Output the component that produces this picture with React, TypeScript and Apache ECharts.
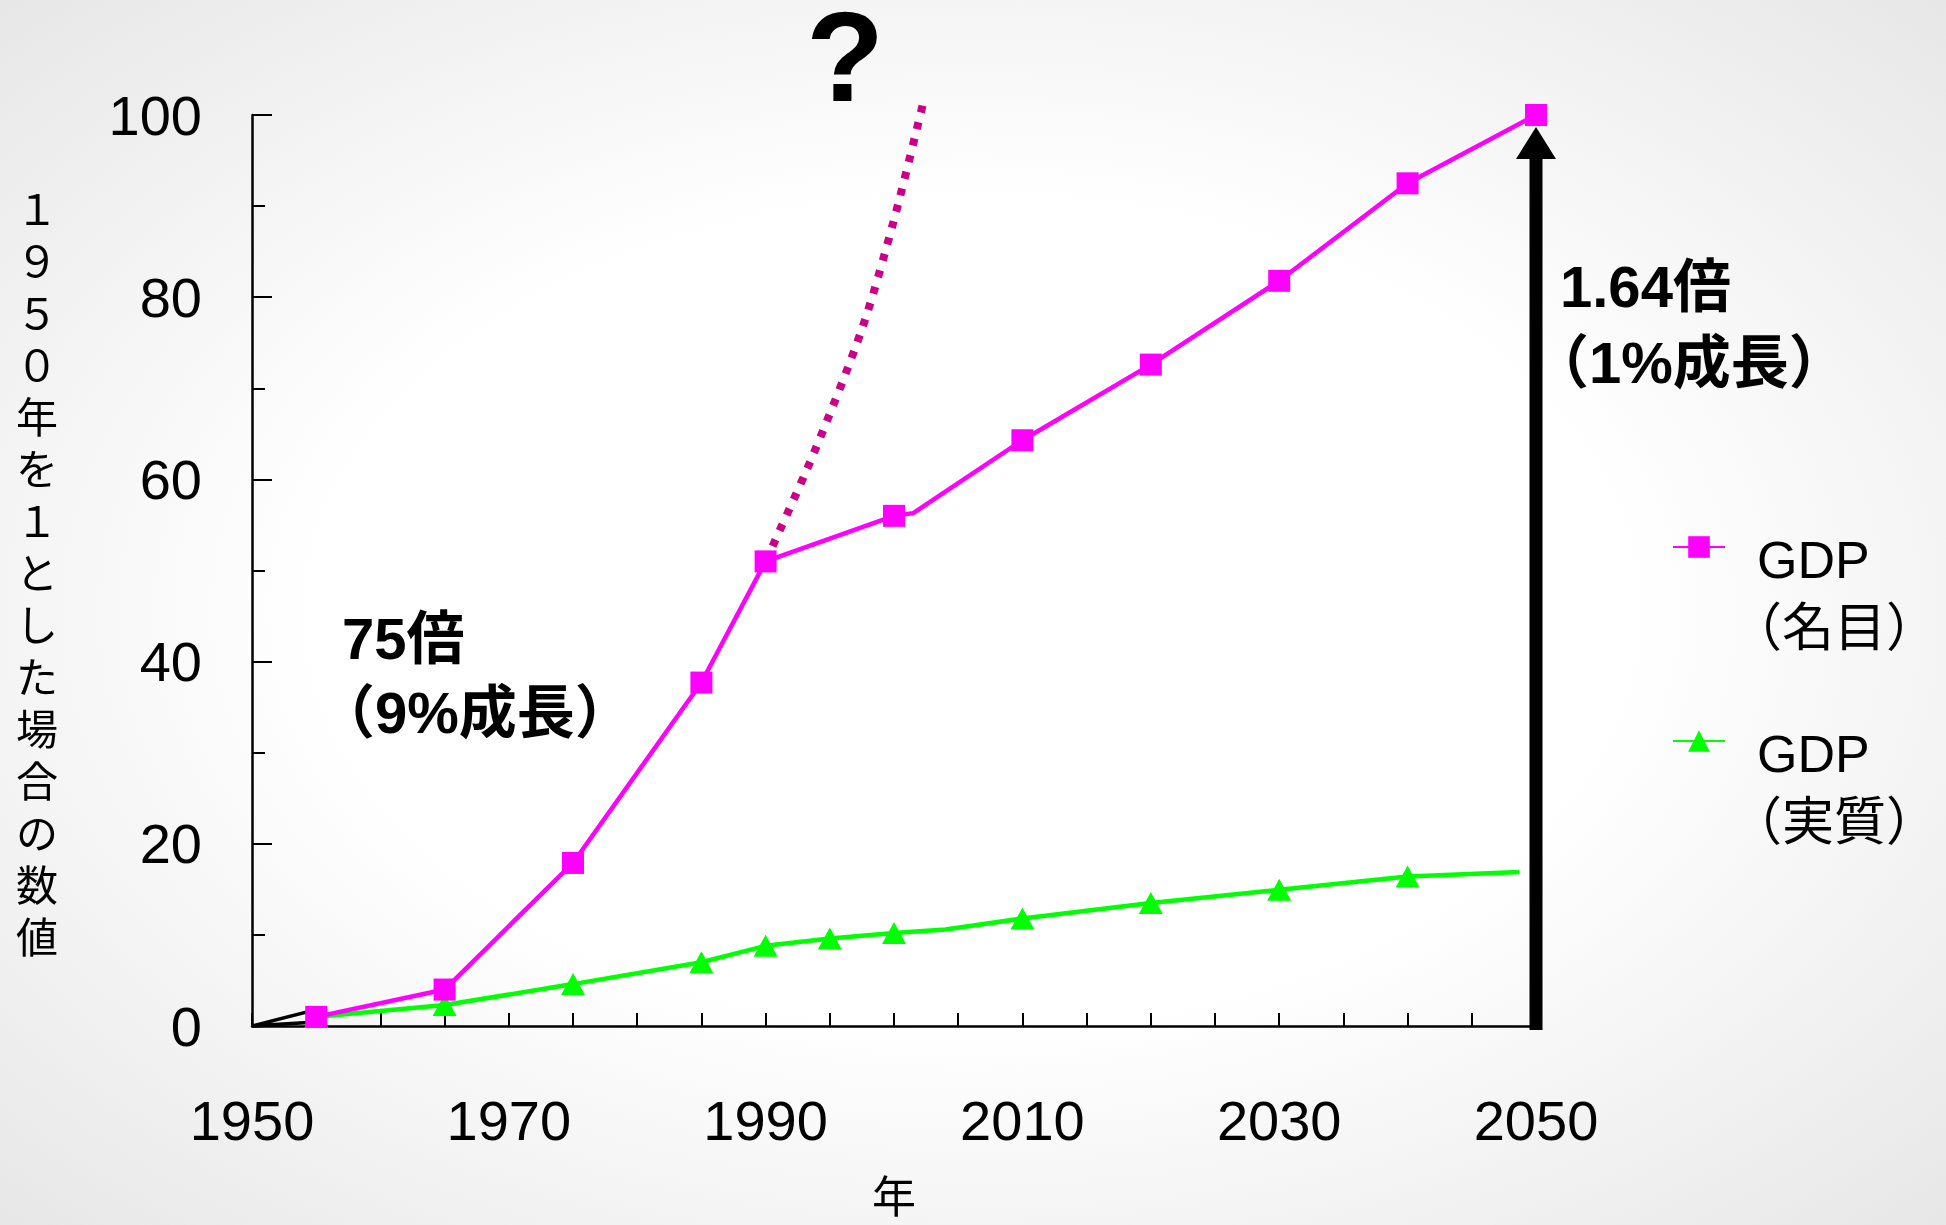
import React, { useEffect, useRef } from "react";
import * as echarts from "echarts";

// ---- data ----
const xMin = 1950;
const xMax = 2050;
const xTickStep = 5;
const xLabelStep = 20;
const yMin = 0;
const yMax = 100;
const yLabelStep = 20;

const nominalName = "GDP（名目）";
const nominalLegendLines = ["GDP", "（名目）"];
const nominalYears = [1955, 1965, 1975, 1985, 1990, 2000, 2001.5, 2010, 2020, 2030, 2040, 2050];
const nominalValues = [1.0, 4.0, 17.9, 37.7, 51.0, 56.0, 56.3, 64.3, 72.6, 81.8, 92.5, 100];
const nominalMarker = [1, 1, 1, 1, 1, 1, 0, 1, 1, 1, 1, 1];

const realName = "GDP（実質）";
const realLegendLines = ["GDP", "（実質）"];
const realYears = [1955, 1965, 1975, 1985, 1990, 1995, 2000, 2004, 2010, 2020, 2030, 2040, 2048.7];
const realValues = [1.0, 2.3, 4.6, 7.0, 8.8, 9.6, 10.2, 10.6, 11.8, 13.5, 14.95, 16.4, 16.9];
const realMarker = [1, 1, 1, 1, 1, 1, 1, 0, 1, 1, 1, 1, 0];

// extrapolated 9% growth path (dotted)
const trendYears = [1990, 1993.7, 1997.5, 2000, 2002.3];
const trendValues = [51.0, 62.7, 76.5, 88.5, 101.5];

// small black mark at the origin
const originYears = [1955, 1950, 1955];
const originValues = [1.8, 0, 0.45];

// growth arrow at 2050
const arrowYear = 2050;
const arrowFrom = 0;
const arrowTo = 100;

const yAxisTitle = "１９５０年を１とした場合の数値";
const xAxisTitle = "年";
const noteLeftLines = ["75倍", "（9%成長）"];
const noteRightLines = ["1.64倍", "（1%成長）"];
const noteQuestion = "?";

const LATIN = "'Liberation Sans', 'Noto Sans CJK JP', sans-serif";
const CJK = "'Noto Sans CJK JP', sans-serif";

function pairs(xs: number[], ys: number[], marks?: number[]) {
  return xs.map((x, i) =>
    marks && !marks[i] ? { value: [x, ys[i]], symbol: "none" } : { value: [x, ys[i]] }
  );
}

export default function App() {
  const ref = useRef<HTMLDivElement>(null);

  useEffect(() => {
    if (!ref.current) return;
    const chart = echarts.init(ref.current, undefined, { renderer: "svg" });

    const legendText = {
      fontFamily: LATIN,
      fontSize: 52,
      color: "#000",
      rich: {
        s: { fontSize: 10, lineHeight: 94 },
        g: { fontFamily: LATIN, fontSize: 52, lineHeight: 68, padding: [0, 0, 0, 27], color: "#000" },
        p: { fontFamily: LATIN, fontSize: 52, lineHeight: 68, color: "#000" },
      },
    };
    const legendFmt = (lines: string[]) => `{s| }\n{g|${lines[0]}}\n{p|${lines[1]}}`;

    const legendCommon = {
      orient: "vertical",
      left: 1672,
      padding: 0,
      itemWidth: 52,
      itemHeight: 27,
      selectedMode: false,
      textStyle: legendText,
    };

    const noteStyle = (text: string) => ({
      text,
      fontFamily: LATIN,
      fontSize: 58,
      fontWeight: "bold",
      fill: "#000",
      verticalAlign: "middle",
    });

    const option: any = {
      animation: false,
      backgroundColor: {
        type: "radial",
        x: 0.5,
        y: 0.5,
        r: 0.75,
        colorStops: [
          { offset: 0, color: "#ffffff" },
          { offset: 0.45, color: "#ffffff" },
          { offset: 1, color: "#e4e4e4" },
        ],
      },
      grid: { left: 252, right: 410, top: 115, bottom: 199, containLabel: false },
      legend: [
        { ...legendCommon, data: [nominalName], formatter: () => legendFmt(nominalLegendLines), top: 474 },
        { ...legendCommon, data: [realName], formatter: () => legendFmt(realLegendLines), top: 668 },
      ],
      xAxis: {
        type: "value",
        min: xMin,
        max: xMax,
        interval: xTickStep,
        name: xAxisTitle,
        nameLocation: "middle",
        nameGap: 168,
        nameTextStyle: {
          fontFamily: CJK,
          fontSize: 44,
          color: "#000",
          verticalAlign: "middle",
        },
        axisLine: { lineStyle: { color: "#000", width: 2.5 } },
        axisTick: { inside: true, length: 13, lineStyle: { color: "#000", width: 2 } },
        splitLine: { show: false },
        axisLabel: {
          margin: 66,
          fontFamily: LATIN,
          fontSize: 56,
          color: "#000",
          formatter: (v: number) => ((v - xMin) % xLabelStep === 0 ? String(v) : ""),
        },
      },
      yAxis: {
        type: "value",
        min: yMin,
        max: yMax,
        interval: yLabelStep,
        name: yAxisTitle.split("").join("\n"),
        nameLocation: "middle",
        nameRotate: 0,
        nameGap: 215,
        nameTextStyle: {
          fontFamily: CJK,
          fontSize: 42,
          lineHeight: 52,
          color: "#000",
          align: "center",
          verticalAlign: "middle",
        },
        axisLine: { show: true, lineStyle: { color: "#000", width: 2.5 } },
        axisTick: { show: true, inside: true, length: 20, lineStyle: { color: "#000", width: 2 } },
        minorTick: { show: true, splitNumber: 2, length: 13, lineStyle: { color: "#000", width: 2 } },
        splitLine: { show: false },
        axisLabel: {
          margin: 50,
          fontFamily: LATIN,
          fontSize: 56,
          color: "#000",
        },
      },
      series: [
        {
          name: "origin",
          type: "line",
          data: pairs(originYears, originValues),
          symbol: "none",
          clip: false,
          lineStyle: { color: "#000", width: 3.5 },
          z: 1,
        },
        {
          name: "trend",
          type: "line",
          data: pairs(trendYears, trendValues),
          symbol: "none",
          smooth: 0.3,
          clip: false,
          lineStyle: { color: "#CC0088", width: 8, type: [7, 10], cap: "butt" },
          z: 2,
        },
        {
          name: realName,
          type: "line",
          data: pairs(realYears, realValues, realMarker),
          symbol: "triangle",
          symbolSize: [24, 22],
          clip: false,
          itemStyle: { color: "#00FF00" },
          lineStyle: { color: "#00FF00", width: 4.5 },
          z: 3,
        },
        {
          name: nominalName,
          type: "line",
          data: pairs(nominalYears, nominalValues, nominalMarker),
          symbol: "rect",
          symbolSize: 22,
          clip: false,
          itemStyle: { color: "#FF00FF" },
          lineStyle: { color: "#FF00FF", width: 4.5 },
          z: 4,
        },
        {
          name: "arrow",
          type: "custom",
          data: [[arrowYear, arrowFrom, arrowTo]],
          clip: false,
          z: 5,
          renderItem: (params: any, api: any) => {
            const bottom = api.coord([api.value(0), api.value(1)]);
            const top = api.coord([api.value(0), api.value(2)]);
            const x = top[0];
            const tipY = top[1] + 12;
            const headH = 32;
            const headW = 40;
            const shaftW = 13;
            return {
              type: "group",
              children: [
                {
                  type: "rect",
                  shape: { x: x - shaftW / 2, y: tipY + headH - 2, width: shaftW, height: bottom[1] + 4 - (tipY + headH - 2) },
                  style: { fill: "#000" },
                },
                {
                  type: "polygon",
                  shape: { points: [[x, tipY], [x - headW / 2, tipY + headH], [x + headW / 2, tipY + headH]] },
                  style: { fill: "#000" },
                },
              ],
            };
          },
        },
      ],
      graphic: [
        {
          type: "text",
          left: 806,
          top: -8,
          style: { text: noteQuestion, fontFamily: LATIN, fontSize: 128, fontWeight: "bold", fill: "#000" },
        },
        { type: "text", x: 342, y: 638, style: noteStyle(noteLeftLines[0]) },
        { type: "text", x: 317, y: 712, style: noteStyle(noteLeftLines[1]) },
        { type: "text", x: 1560, y: 286, style: noteStyle(noteRightLines[0]) },
        { type: "text", x: 1531, y: 362, style: noteStyle(noteRightLines[1]) },
      ],
    };

    chart.setOption(option);
    return () => chart.dispose();
  }, []);

  return (
    <div
      ref={ref}
      style={{ position: "fixed", left: 0, top: 0, width: 1946, height: 1225 }}
    />
  );
}
